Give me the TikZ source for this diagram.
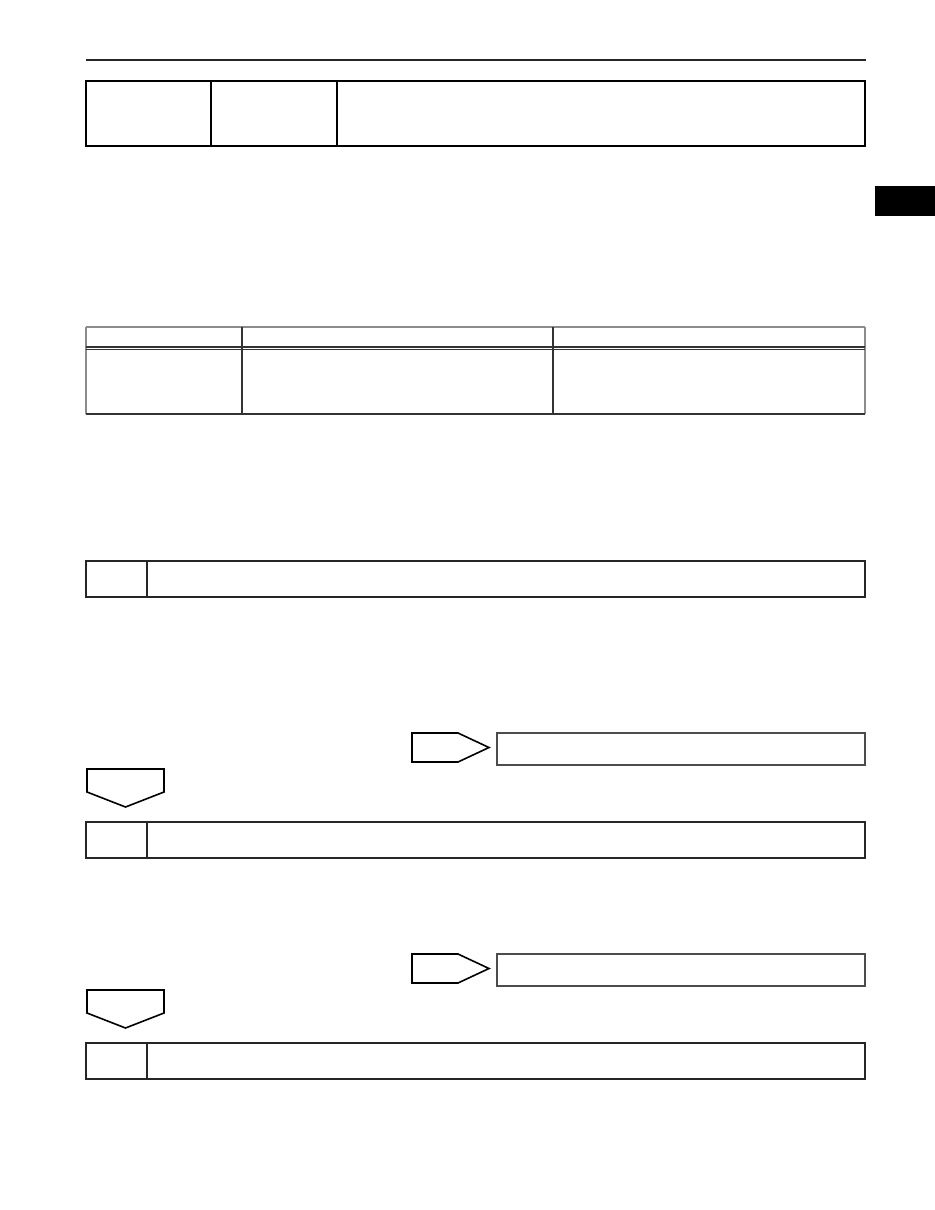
\documentclass[tikz,border=0pt]{standalone}
\begin{document}
\begin{tikzpicture}[x=0.75pt,y=-0.75pt,
  heavy/.style={draw=black,line width=1.9pt},
  boxline/.style={draw=black!85,line width=1.5pt},
  thin/.style={draw=black!80,line width=0.9pt},
  grayline/.style={draw=black!45,line width=1.2pt},
  arrowshape/.style={draw=black,line width=1.2pt,line join=miter},
  sidebox/.style={draw=black!70,line width=1.4pt}]
\useasboundingbox (0,0) rectangle (935,1210);
% top rule
\draw[draw=black!85,line width=1.5pt] (86,60) -- (866,60);
% header box
\draw[heavy] (86,81) rectangle (865,146);
\draw[heavy] (211,81) -- (211,146);
\draw[heavy] (337,81) -- (337,146);
% black tab
\fill[black] (875,186) rectangle (935,216);
% table
\draw[grayline] (86,327) -- (865,327);
\draw[grayline] (86,327) -- (86,414);
\draw[grayline] (865,327) -- (865,414);
\draw[thin] (86,347) -- (865,347);
\draw[thin] (86,349.5) -- (865,349.5);
\draw[thin] (86,414) -- (865,414);
\draw[thin] (242,327) -- (242,414);
\draw[thin] (553,327) -- (553,414);
% step 1
\draw[boxline] (86,561) rectangle (865,597);
\draw[boxline] (147,561) -- (147,597);
% branch 1
\draw[arrowshape] (412,733) -- (458,733) -- (489,747.5) -- (458,762) -- (412,762) -- cycle;
\draw[sidebox] (497,733) rectangle (865,765);
\draw[arrowshape] (87,769) -- (164,769) -- (164,792) -- (125.5,807) -- (87,792) -- cycle;
% step 2
\draw[boxline] (86,822) rectangle (865,858);
\draw[boxline] (147,822) -- (147,858);
% branch 2
\draw[arrowshape] (412,954) -- (458,954) -- (489,968.5) -- (458,983) -- (412,983) -- cycle;
\draw[sidebox] (497,954) rectangle (865,986);
\draw[arrowshape] (87,990) -- (164,990) -- (164,1013) -- (125.5,1028) -- (87,1013) -- cycle;
% step 3
\draw[boxline] (86,1043) rectangle (865,1079);
\draw[boxline] (147,1043) -- (147,1079);
\end{tikzpicture}
\end{document}
